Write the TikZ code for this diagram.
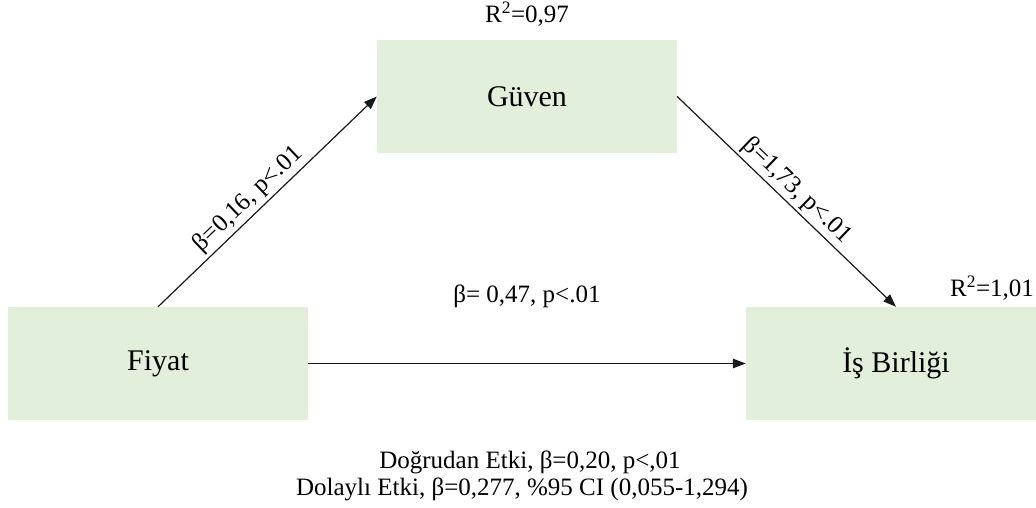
\documentclass[tikz,border=0pt]{standalone}
\usepackage{fontspec}
\setmainfont{Liberation Serif}
\usetikzlibrary{arrows.meta}
\definecolor{boxgreen}{HTML}{E2EFDA}
\begin{document}
\begin{tikzpicture}[x=1pt,y=-1pt,
  box/.style={fill=boxgreen, minimum width=300pt, minimum height=113pt, inner sep=0pt, font=\fontsize{30}{36}\selectfont},
  lbl/.style={font=\fontsize{25}{30}\selectfont, inner sep=0pt},
  arr/.style={-{Triangle[length=13pt,width=9.5pt]}, line width=1.2pt, draw=black!90}]
\clip (0,0) rectangle (1036,508);
\fill[white] (0,0) rectangle (1036,508);
\node[box] (guven) at (527,96.5) {Güven};
\node[box] (fiyat) at (158,363.5) {Fiyat};
\node[box] (isb) at (896,363.5) {İş Birliği};
\node[lbl] (r1) at (527,14) {R\textsuperscript{2}=0,97};
\node[lbl] (r2) at (992,288) {R\textsuperscript{2}=1,01};
\draw[arr] (fiyat.north) -- node[lbl, sloped, above, pos=0.46, inner sep=3pt] (l1) {β=0,16, p<.01} (guven.west);
\draw[arr] (guven.east) -- node[lbl, sloped, above, pos=0.50, inner sep=3pt] (l2) {β=1,73, p<.01} (isb.north);
\draw[arr] (fiyat.east) -- (isb.west);
\node[lbl] (l3) at (527,296) {β= 0,47, p<.01};
\node[lbl] (d1) at (530,462) {Doğrudan Etki, β=0,20, p<,01};
\node[lbl] (d2) at (522,489) {Dolaylı Etki, β=0,277, \%95 CI (0,055-1,294)};
\end{tikzpicture}
\end{document}
